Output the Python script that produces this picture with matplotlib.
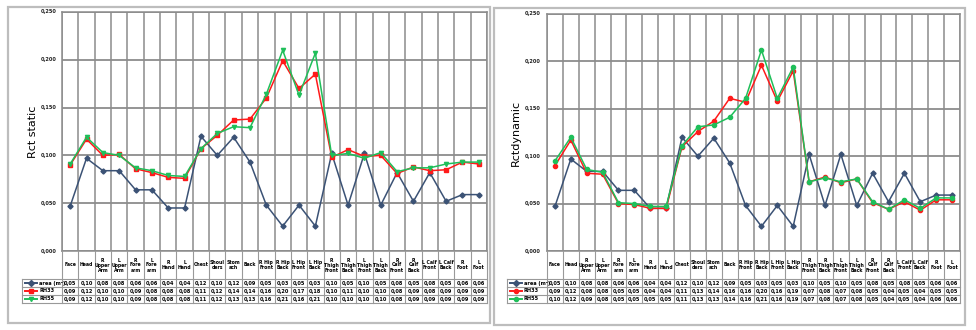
import numpy as np
import matplotlib
matplotlib.use("Agg")
import matplotlib.pyplot as plt
from matplotlib.lines import Line2D
from matplotlib.patches import Rectangle

categories = ["Face", "Head", "R\nUpper\nArm", "L\nUpper\nArm", "R\nFore\narm", "L\nFore\narm",
              "R\nHand", "L\nHand", "Chest", "Shoul\nders", "Stom\nach", "Back",
              "R Hip\nFront", "R Hip\nBack", "L Hip\nFront", "L Hip\nBack",
              "R\nThigh\nFront", "R\nThigh\nBack", "L\nThigh\nFront", "L\nThigh\nBack",
              "R\nCalf\nFront", "R\nCalf\nBack", "L Calf\nFront", "L Calf\nBack", "R\nFoot", "L\nFoot"]

area = [0.047, 0.097, 0.084, 0.084, 0.064, 0.064, 0.045, 0.045, 0.120, 0.100, 0.119, 0.093,
        0.048, 0.026, 0.048, 0.026, 0.102, 0.048, 0.102, 0.048, 0.082, 0.052, 0.082, 0.052,
        0.059, 0.059]

static_a = [0.090, 0.117, 0.100, 0.101, 0.086, 0.082, 0.077, 0.076, 0.107, 0.121, 0.137, 0.138,
            0.160, 0.199, 0.170, 0.185, 0.098, 0.106, 0.099, 0.100, 0.081, 0.088, 0.084, 0.085,
            0.093, 0.091]
static_b = [0.091, 0.119, 0.103, 0.100, 0.087, 0.084, 0.079, 0.078, 0.107, 0.123, 0.130, 0.129,
            0.164, 0.210, 0.163, 0.207, 0.100, 0.102, 0.097, 0.103, 0.083, 0.087, 0.087, 0.091,
            0.093, 0.093]

dyn_a = [0.090, 0.117, 0.082, 0.081, 0.050, 0.049, 0.045, 0.045, 0.110, 0.126, 0.137, 0.161,
         0.157, 0.196, 0.158, 0.190, 0.073, 0.078, 0.072, 0.076, 0.051, 0.044, 0.052, 0.043,
         0.054, 0.054]
dyn_b = [0.095, 0.120, 0.086, 0.083, 0.051, 0.050, 0.047, 0.047, 0.111, 0.131, 0.133, 0.141,
         0.161, 0.212, 0.161, 0.194, 0.073, 0.077, 0.073, 0.076, 0.052, 0.044, 0.054, 0.045,
         0.056, 0.056]

series_names = ["area (m\u00b2)", "RH33", "RH55"]
y_ticks = [0.0, 0.05, 0.10, 0.15, 0.20, 0.25]

BLUE = "#3b5275"
RED = "#ff1a1a"
GREEN = "#1fbf5a"
GRID = "#8c8c8c"
FS = 3.6

W, H = 976, 330
fig = plt.figure(figsize=(W / 100, H / 100), dpi=100)
fig.patch.set_facecolor("white")


def fx(px):
    return px / W


def fy(py):
    return 1 - py / H


def add_box(x0, y0, x1, y1):
    fig.patches.append(Rectangle((fx(x0), fy(y1)), fx(x1) - fx(x0), fy(y0) - fy(y1),
                                 transform=fig.transFigure, fill=False,
                                 edgecolor="#bdbdbd", lw=1.6))


def panel(px0, px1, ptop, pbot, legx0, ylabel, vals, markers, ylabx, ticklabx):
    ax = fig.add_axes([fx(px0), fy(pbot), fx(px1) - fx(px0), fy(ptop) - fy(pbot)])
    n = len(categories)
    x = np.arange(n)
    colors = [BLUE, RED, GREEN]
    sizes = [2.6, 3.0, 3.0]
    for v, c, m, s in zip(vals, colors, markers, sizes):
        ax.plot(x, v, color=c, lw=1.1, marker=m, ms=s, mec=c, mfc=c, zorder=3)
    ax.set_xlim(-0.5, n - 0.5)
    ax.set_ylim(0, 0.25)
    for k in range(n + 1):
        ax.axvline(k - 0.5, color=GRID, lw=1.1, zorder=1)
    for t in y_ticks:
        ax.axhline(t, color=GRID, lw=1.3, zorder=1)
    ax.set_xticks([])
    ax.set_yticks([])
    for s in ax.spines.values():
        s.set_color(GRID)
        s.set_linewidth(1.1)
    for t in y_ticks:
        ypx = pbot - (pbot - ptop) * t / 0.25
        fig.text(fx(ticklabx), fy(ypx), ("%.3f" % t).replace(".", ","), fontsize=FS,
                 ha="right", va="center", fontweight="bold", color="#222222")
    fig.text(fx(ylabx), fy((ptop + pbot) / 2), ylabel, rotation=90, fontsize=8,
             ha="center", va="center", color="black")
    colw = (px1 - px0) / n
    hdr_bot = 279
    rows = [279, 287, 295, 303]
    lines_kw = dict(transform=fig.transFigure, color="#999999", lw=0.8)
    for k in range(n + 1):
        xx = px0 + k * colw
        fig.add_artist(Line2D([fx(xx), fx(xx)], [fy(pbot), fy(rows[-1])], **lines_kw))
    for yy in rows:
        fig.add_artist(Line2D([fx(legx0), fx(px1)], [fy(yy), fy(yy)], **lines_kw))
    fig.add_artist(Line2D([fx(legx0), fx(legx0)], [fy(rows[0]), fy(rows[-1])], **lines_kw))
    for k in range(n):
        cx = px0 + (k + 0.5) * colw
        fig.text(fx(cx), fy((pbot + hdr_bot) / 2), categories[k], fontsize=FS - 0.3,
                 ha="center", va="center", fontweight="bold", linespacing=1.0)
    for r, (v, c, m, nm) in enumerate(zip(vals, colors, markers, series_names)):
        yc = (rows[r] + rows[r + 1]) / 2
        for k in range(n):
            cx = px0 + (k + 0.5) * colw
            fig.text(fx(cx), fy(yc), ("%.2f" % v[k]).replace(".", ","), fontsize=FS,
                     ha="center", va="center", fontweight="bold")
        lx0, lx1 = legx0 + 3, legx0 + 15
        fig.add_artist(Line2D([fx(lx0), fx(lx1)], [fy(yc), fy(yc)], transform=fig.transFigure,
                              color=c, lw=1.4, marker=None))
        fig.add_artist(Line2D([fx((lx0 + lx1) / 2)], [fy(yc)], transform=fig.transFigure,
                              color=c, marker=m, ms=3, mec=c, mfc=c, lw=0))
        fig.text(fx(lx1 + 2), fy(yc), nm, fontsize=FS, ha="left", va="center",
                 fontweight="bold")
    return ax


add_box(8, 7, 490, 323)
add_box(494, 8, 965, 325)

panel(62, 487, 12, 251, 22, "Rct static", [area, static_a, static_b], ["D", "s", "v"], 33, 57)
panel(547, 960, 14, 251, 507, "Rctdynamic", [area, dyn_a, dyn_b], ["D", "o", "o"], 516, 541)

fig.savefig("out.png", dpi=100, facecolor="white")
